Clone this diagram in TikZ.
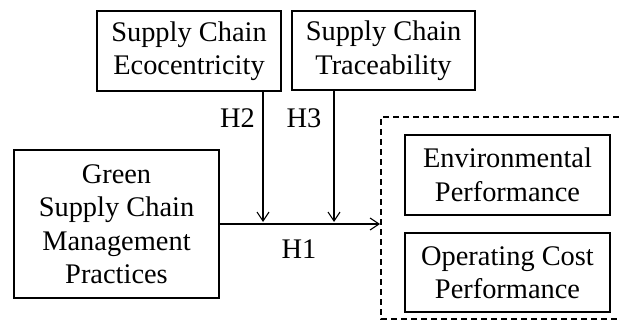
\documentclass[tikz,border=0pt]{standalone}
\usepackage{fontspec}
\setmainfont{Liberation Serif}
\usetikzlibrary{arrows.meta}
\begin{document}
\begin{tikzpicture}[x=1pt,y=-1pt,
  box/.style={draw,line width=1.1pt,align=center,inner sep=0pt,
    font=\fontsize{28.4}{33.5}\selectfont},
  lbl/.style={font=\fontsize{28.4}{33.5}\selectfont,inner sep=0pt},
  arr/.style={line width=1.1pt,-{Straight Barb[length=9pt,width=12pt,line width=1.1pt]}},
  dashline/.style={line width=1.1pt,dash pattern=on 6pt off 4pt}]
\useasboundingbox (0,0) rectangle (619,329);
\node[box,minimum width=184pt,minimum height=80pt] (eco) at (189,51) {Supply Chain\\Ecocentricity};
\node[box,minimum width=183pt,minimum height=79pt] (trace) at (383.5,50.5) {Supply Chain\\Traceability};
\node[box,minimum width=205pt,minimum height=148pt] (green) at (116.5,224) {Green\\Supply Chain\\Management\\Practices};
\node[box,minimum width=205pt,minimum height=80pt] (env) at (507.5,175) {Environmental\\Performance};
\node[box,minimum width=205pt,minimum height=79pt] (cost) at (507.5,272.5) {Operating Cost\\Performance};
\coordinate (dtl) at (381,117);
\coordinate (dtr) at (619,117);
\coordinate (dbl) at (381,319);
\coordinate (dbr) at (619,319);
\draw[dashline] (dtr) -- (dtl) -- (dbl) -- (dbr);
\coordinate (t2) at (263,222);
\coordinate (t3) at (334,222);
\coordinate (d) at (380,224);
\draw[arr] (green.east) -- (d);
\draw[arr] (eco.south -| t2) -- (t2);
\draw[arr] (trace.south -| t3) -- (t3);
\node[lbl] (h2) at (237.5,118.5) {H2};
\node[lbl] (h3) at (304,118.5) {H3};
\node[lbl] (h1) at (299,249.5) {H1};
\end{tikzpicture}
\end{document}
